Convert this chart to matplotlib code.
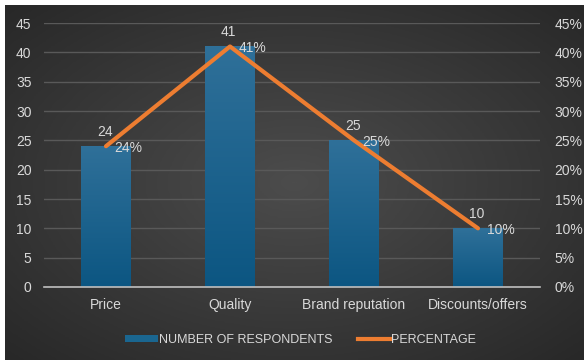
import numpy as np
import matplotlib.pyplot as plt
from matplotlib.patches import Patch
from matplotlib.lines import Line2D

categories = ['Price', 'Quality', 'Brand reputation', 'Discounts/offers']
respondents = [24, 41, 25, 10]
percentage = [0.24, 0.41, 0.25, 0.10]

txt = '#d9d9d9'
orange = '#ed7d31'
plt.rcParams['font.family'] = ['Liberation Sans', 'DejaVu Sans']

fig = plt.figure(figsize=(5.84, 3.6), dpi=100)
fig.patch.set_facecolor('white')

# radial gradient background
bg = fig.add_axes([5/584, 0, 1-5/584, 1-5/360], zorder=0)
yy, xx = np.mgrid[-1:1:200j, -1:1:300j]
r = np.sqrt(xx**2 + yy**2) / np.sqrt(2)
bg.imshow(r, cmap=plt.cm.colors.LinearSegmentedColormap.from_list('g', ['#4c4c4c', '#282828']),
          aspect='auto', extent=[0, 1, 0, 1])
bg.axis('off')

ax = fig.add_axes([44/584, 1-287/360, 496/584, (287-23)/360], zorder=1)
ax.patch.set_alpha(0)
x = np.arange(len(categories))
bars = ax.bar(x, respondents, width=0.4, color='#1a6690', zorder=2)

# vertical gradient in bars
grad = np.linspace(0, 1, 100).reshape(-1, 1)
bcmap = plt.cm.colors.LinearSegmentedColormap.from_list('b', ['#0c5682', '#2f7099'])
for b in bars:
    bx, bw, bh = b.get_x(), b.get_width(), b.get_height()
    im = ax.imshow(grad, cmap=bcmap, aspect='auto', origin='lower',
                   extent=[bx, bx + bw, 0, bh], zorder=2)
    im.set_clip_path(b)

ax.set_xlim(-0.5, len(categories) - 0.5)
ax.set_ylim(0, 45)
ax.set_yticks(np.arange(0, 46, 5))
ax.grid(axis='y', color='#595959', linewidth=1, zorder=0)
ax.set_axisbelow(True)
for s in ['top', 'right', 'left']:
    ax.spines[s].set_visible(False)
ax.spines['bottom'].set_color('#bfbfbf')
ax.spines['bottom'].set_linewidth(1.2)
ax.tick_params(length=0, colors=txt, labelsize=10)
ax.tick_params(axis='y', pad=9)
ax.tick_params(axis='x', pad=8)
ax.set_xticks(x)
ax.set_xticklabels(categories)

for i, v in enumerate(respondents):
    ax.text(x[i] - 0.01, v + 1.2, str(v), color=txt, fontsize=10, ha='center', va='bottom', zorder=5)

ax2 = ax.twinx()
ax2.set_ylim(0, 0.45)
ax2.set_yticks(np.arange(0, 0.46, 0.05))
ax2.set_yticklabels([f'{int(round(t*100))}%' for t in np.arange(0, 0.46, 0.05)])
for s in ax2.spines.values():
    s.set_visible(False)
ax2.tick_params(length=0, colors=txt, labelsize=10, pad=10.5)
ax2.plot(x, percentage, color=orange, linewidth=3, solid_capstyle='round', zorder=3)
for i, v in enumerate(percentage):
    ax2.text(x[i] + 0.07, v - 0.003, f'{int(round(v*100))}%', color=txt, fontsize=10,
             ha='left', va='center', zorder=5)

handles = [Patch(facecolor='#1a6690'), Line2D([0], [0], color=orange, linewidth=3)]
fig.legend(handles, ['NUMBER OF RESPONDENTS', 'PERCENTAGE'], loc='center',
           bbox_to_anchor=(0.515, 1-340/360), ncol=2, frameon=False, fontsize=9,
           labelcolor=txt, handlelength=2.6, handleheight=0.5, handletextpad=0.1,
           columnspacing=2.0)

fig.savefig('out.png', dpi=100)
